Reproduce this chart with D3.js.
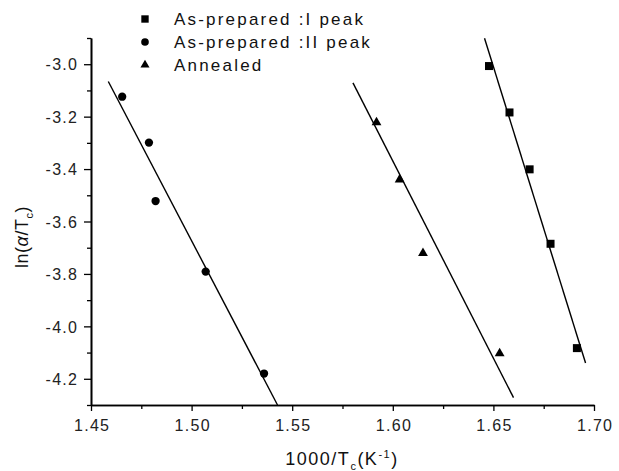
<!DOCTYPE html>
<html>
<head>
<meta charset="utf-8">
<script src="https://cdn.jsdelivr.net/npm/d3@7"></script>
<style>
  html, body { margin: 0; padding: 0; background: #fff; }
  svg { display: block; font-family: "Liberation Sans", Arial, sans-serif; }
</style>
</head>
<body>
<svg id="chart" width="619" height="471"></svg>
<script>
// Measured points: x = 1000/Tc (K^-1), y = ln(alpha/Tc)
const peak1X = [1.6478, 1.6580, 1.6680, 1.6784, 1.6915];
const peak1Y = [-3.007, -3.184, -3.401, -3.685, -4.083];
const peak2X = [1.4655, 1.4788, 1.4821, 1.5070, 1.5360];
const peak2Y = [-3.124, -3.299, -3.522, -3.791, -4.180];
const annealX = [1.5919, 1.6034, 1.6150, 1.6531];
const annealY = [-3.222, -3.440, -3.721, -4.103];

// Linear fits, as [x0, y0, x1, y1] in data units
const peak1Fit = [1.6456, -2.901, 1.6958, -4.140];
const peak2Fit = [1.4586, -3.066, 1.5427, -4.300];
const annealFit = [1.5802, -3.071, 1.6600, -4.272];

const seriesNames = ["As-prepared :I peak", "As-prepared :II peak", "Annealed"];
const xTicks = [1.45, 1.50, 1.55, 1.60, 1.65, 1.70];
const yTicks = [-4.2, -4.0, -3.8, -3.6, -3.4, -3.2, -3.0];

const svg = d3.select("#chart");
const x = d3.scaleLinear().domain([1.45, 1.70]).range([91, 594]);
const y = d3.scaleLinear().domain([-4.3, -2.9]).range([405, 38]);

const series = [
  { name: seriesNames[0], xs: peak1X, ys: peak1Y, fit: peak1Fit, shape: d3.symbolSquare, size: 64 },
  { name: seriesNames[1], xs: peak2X, ys: peak2Y, fit: peak2Fit, shape: d3.symbolCircle, size: 54 },
  { name: seriesNames[2], xs: annealX, ys: annealY, fit: annealFit, shape: d3.symbolTriangle, size: 42 }
];

// Plain hyphen for negative numbers
const hyphen = f => v => f(v).replace("\u2212", "-");

// Axes: major ticks outward, minor ticks between them
const xAxis = d3.axisBottom(x).tickValues(xTicks).tickFormat(d3.format(".2f")).tickSize(6).tickSizeOuter(0);
const xMinor = d3.axisBottom(x).tickValues(d3.range(1.475, 1.70, 0.05)).tickFormat("").tickSize(4).tickSizeOuter(0);
const yAxis = d3.axisLeft(y).tickValues(yTicks).tickFormat(hyphen(d3.format(".1f"))).tickSize(7).tickSizeOuter(0);
const yMinor = d3.axisLeft(y).tickValues(d3.range(-4.3, -2.9 + 1e-9, 0.2)).tickFormat("").tickSize(4).tickSizeOuter(0);

function styleAxis(g) {
  g.attr("font-family", null).attr("font-size", null);
  g.select(".domain").attr("stroke", "#000").attr("stroke-width", 1.6);
  g.selectAll(".tick line").attr("stroke", "#000").attr("stroke-width", 1.3);
  g.selectAll(".tick text").attr("fill", "#222").attr("font-size", 16).attr("letter-spacing", 1.3);
}

svg.append("g").attr("transform", "translate(0,405)").call(xMinor).call(styleAxis);
svg.append("g").attr("transform", "translate(0,405)").call(xAxis).call(styleAxis)
  .selectAll(".tick text").attr("x", 0.6).attr("dy", "1.05em");
svg.append("g").attr("transform", "translate(91,0)").call(yMinor).call(styleAxis);
svg.append("g").attr("transform", "translate(91,0)").call(yAxis).call(styleAxis)
  .selectAll(".tick text").attr("x", -12.7).attr("dy", "0.36em");

// Fit lines
svg.append("g").selectAll("line").data(series).join("line")
  .attr("x1", d => x(d.fit[0])).attr("y1", d => y(d.fit[1]))
  .attr("x2", d => x(d.fit[2])).attr("y2", d => y(d.fit[3]))
  .attr("stroke", "#000").attr("stroke-width", 1.4);

// Markers
series.forEach(s => {
  svg.append("g").selectAll("path").data(s.xs.map((v, i) => [v, s.ys[i]])).join("path")
    .attr("d", d3.symbol().type(s.shape).size(s.size))
    .attr("transform", d => `translate(${x(d[0])},${y(d[1])})`)
    .attr("fill", "#000");
});

// Legend
const legend = svg.append("g");
series.forEach((s, i) => {
  const cy = 19 + i * 23;
  legend.append("path")
    .attr("d", d3.symbol().type(s.shape).size(s.size * 0.85))
    .attr("transform", `translate(145,${cy})`)
    .attr("fill", "#000");
  legend.append("text")
    .attr("x", 174).attr("y", cy + 5.5)
    .attr("fill", "#111")
    .attr("font-size", 17).attr("letter-spacing", 2.2)
    .text(s.name);
});

// Axis titles
const xt = svg.append("text")
  .attr("x", 342).attr("y", 465).attr("text-anchor", "middle")
  .attr("fill", "#111").attr("font-size", 18).attr("letter-spacing", 1.5);
xt.append("tspan").text("1000/T");
xt.append("tspan").attr("dy", 5).attr("font-size", 11).text("c");
xt.append("tspan").attr("dy", -5).text("(K");
xt.append("tspan").attr("dy", -7).attr("font-size", 11).text("-1");
xt.append("tspan").attr("dy", 7).text(")");

const yt = svg.append("text")
  .attr("transform", "translate(28,237) rotate(-90)")
  .attr("text-anchor", "middle")
  .attr("fill", "#111").attr("font-size", 18).attr("letter-spacing", 0.5);
yt.append("tspan").text("ln(");
yt.append("tspan").attr("font-style", "italic").text("α");
yt.append("tspan").text("/T");
yt.append("tspan").attr("dy", 5).attr("font-size", 11).text("c");
yt.append("tspan").attr("dy", -5).text(")");
</script>
</body>
</html>
